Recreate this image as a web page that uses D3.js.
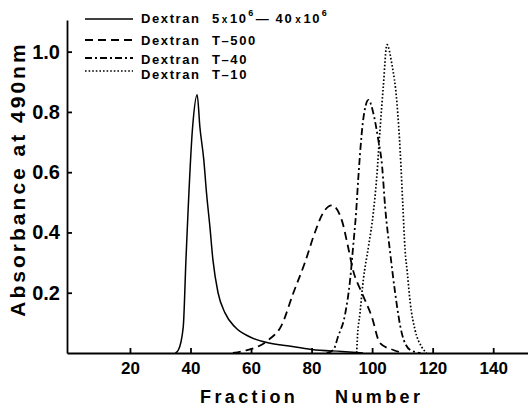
<!DOCTYPE html>
<meta charset="utf-8">
<html>
<head>
<style>
  body { margin: 0; background: #fff; }
  svg { display: block; font-family: "Liberation Sans", Arial, sans-serif; }
  .axis path, .axis line { stroke: #000; stroke-width: 1.8; }
  .axis text { font-weight: bold; fill: #000; }
  .curve { fill: none; stroke: #000; }
</style>
<script src="https://d3js.org/d3.v7.min.js"></script>
</head>
<body>
<svg width="528" height="411"></svg>
<script>

// fraction number / absorbance
var fracHMW   = [35, 36, 37.6, 38.5, 40.7, 42.2, 43.1, 44.4, 45.3, 46.4, 47.4, 49.1, 51.4, 54.7, 59.7, 66, 72, 80, 90, 97];
var absHMW    = [0, 0.01, 0.086, 0.31, 0.75, 0.857, 0.75, 0.64, 0.53, 0.42, 0.31, 0.2, 0.133, 0.086, 0.053, 0.033, 0.024, 0.012, 0.005, 0];

var fracT500  = [54, 58, 62, 66, 70, 74, 77.8, 81.1, 83.8, 86.7, 90, 92.1, 93.7, 96.6, 99.9, 102.6, 107, 110];
var absT500   = [0, 0.008, 0.02, 0.045, 0.09, 0.2, 0.3, 0.4, 0.465, 0.49, 0.44, 0.35, 0.275, 0.2, 0.12, 0.033, 0.01, 0];

var fracT40   = [85, 87.2, 88.7, 91.1, 92.7, 93.7, 94.7, 95.4, 96, 97, 98.8, 100.3, 102, 103.3, 104.3, 106, 107.6, 109.8, 112.6, 116];
var absT40    = [0, 0.01, 0.053, 0.13, 0.24, 0.35, 0.465, 0.575, 0.66, 0.77, 0.84, 0.8, 0.71, 0.62, 0.485, 0.33, 0.2, 0.066, 0.01, 0];

var fracT10   = [94.9, 95.1, 96, 97.1, 98.8, 100.4, 101.5, 102.6, 103.7, 104.9, 106.5, 108.2, 109.3, 110.1, 110.9, 111.6, 112.6, 114.2, 116.4, 118];
var absT10    = [0, 0.043, 0.133, 0.243, 0.353, 0.465, 0.58, 0.74, 0.885, 1.023, 0.96, 0.83, 0.665, 0.5, 0.34, 0.27, 0.166, 0.076, 0.02, 0];

var xTicks = [20, 40, 60, 80, 100, 120, 140];
var yTicks = [0.2, 0.4, 0.6, 0.8, 1.0];

var svg = d3.select("svg");

var x = d3.scaleLinear().domain([-0.8, 151.5]).range([67, 528]),
    y = d3.scaleLinear().domain([0, 1.105]).range([353, 20]);

var series = [
  { frac: fracHMW,  abs: absHMW,  dash: null,        width: 1.5 },
  { frac: fracT500, abs: absT500, dash: "8,5",       width: 1.8 },
  { frac: fracT40,  abs: absT40,  dash: "7,3,2,3",   width: 1.8 },
  { frac: fracT10,  abs: absT10,  dash: "1.6,2",     width: 1.7 }
];

var line = d3.line()
    .curve(d3.curveMonotoneX)
    .x(function(d) { return x(d[0]); })
    .y(function(d) { return y(d[1]); });

// axes
var xAxis = svg.append("g")
    .attr("class", "axis")
    .attr("transform", "translate(0," + y(0) + ")")
    .call(d3.axisBottom(x).tickValues(xTicks).tickSizeInner(-5).tickSizeOuter(0).tickPadding(12));
xAxis.selectAll("text").attr("font-size", "17px").attr("dy", "0.71em").attr("y", 9);

var yAxis = svg.append("g")
    .attr("class", "axis")
    .attr("transform", "translate(" + x(-0.8) + ",0)")
    .call(d3.axisLeft(y).tickValues(yTicks).tickSizeInner(-5).tickSizeOuter(0).tickPadding(7)
      .tickFormat(d3.format(".1f")));
yAxis.selectAll("text").attr("font-size", "20px");

// curves
series.forEach(function(s) {
  var pts = s.frac.map(function(f, i) { return [f, s.abs[i]]; });
  svg.append("path")
      .attr("class", "curve")
      .attr("d", line(pts))
      .attr("stroke-width", s.width)
      .attr("stroke-dasharray", s.dash);
});

// legend
var legendY = [19, 40, 58, 71];
var textY = [23, 45, 64, 79];
var legend = svg.append("g")
    .attr("font-size", "13px")
    .attr("font-weight", "bold")
    .attr("letter-spacing", "1.6");

series.forEach(function(s, i) {
  legend.append("line")
      .attr("x1", 85).attr("x2", 133)
      .attr("y1", legendY[i]).attr("y2", legendY[i])
      .attr("stroke", "#000")
      .attr("stroke-width", s.width)
      .attr("stroke-dasharray", s.dash);
  legend.append("text")
      .attr("x", 141).attr("y", textY[i])
      .text("Dextran");
});

var t0 = legend.append("text").attr("x", 212).attr("y", textY[0]);
t0.append("tspan").text("5");
t0.append("tspan").attr("font-size", "10px").attr("dx", 1).text("x");
t0.append("tspan").attr("dx", 1).text("10");
t0.append("tspan").attr("font-size", "9px").attr("dy", -7).attr("dx", 0.5).text("6");
t0.append("tspan").attr("dy", 7).attr("dx", 1).text("\u2014 40");
t0.append("tspan").attr("font-size", "10px").attr("dx", 2).text("x");
t0.append("tspan").attr("dx", 1).text("10");
t0.append("tspan").attr("font-size", "9px").attr("dy", -7).attr("dx", 0.5).text("6");

legend.append("text").attr("x", 212).attr("y", textY[1]).text("T\u2013500");
legend.append("text").attr("x", 212).attr("y", textY[2]).text("T\u201340");
legend.append("text").attr("x", 212).attr("y", textY[3]).text("T\u201310");

// axis titles
svg.append("text")
    .attr("transform", "translate(25,179) rotate(-90)")
    .attr("text-anchor", "middle")
    .attr("font-size", "21px")
    .attr("font-weight", "bold")
    .attr("letter-spacing", "3")
    .text("Absorbance at 490nm");

svg.append("text")
    .attr("x", 200).attr("y", 403)
    .attr("font-size", "18px")
    .attr("font-weight", "bold")
    .attr("letter-spacing", "3.4")
    .text("Fraction");

svg.append("text")
    .attr("x", 335).attr("y", 403)
    .attr("font-size", "18px")
    .attr("font-weight", "bold")
    .attr("letter-spacing", "3.4")
    .text("Number");

</script>
</body>
</html>
